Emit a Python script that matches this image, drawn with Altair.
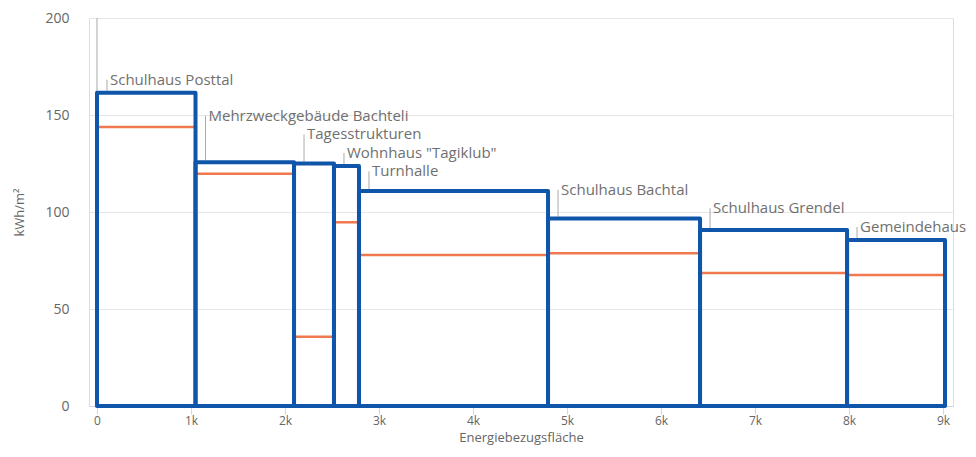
import altair as alt
import pandas as pd
import numpy as np

names = ["Schulhaus Posttal", "Mehrzweckgebäude Bachteli", "Tagesstrukturen",
         'Wohnhaus "Tagiklub"', "Turnhalle", "Schulhaus Bachtal",
         "Schulhaus Grendel", "Gemeindehaus"]
areas = [1048, 1048, 425, 266, 2011, 1617, 1564, 1042]
consumption = [161.5, 125.6, 125.0, 123.7, 110.8, 96.6, 90.7, 85.6]
target = [143.8, 119.7, 35.7, 94.7, 77.8, 78.7, 68.6, 67.5]
x_ticks = [0, 1000, 2000, 3000, 4000, 5000, 6000, 7000, 8000, 9000]
y_ticks = [0, 50, 100, 150, 200]

W, H = 864, 388
X_DOM = [-85, 9106]
Y_DOM = [0, 200]
px_x = (X_DOM[1] - X_DOM[0]) / W
px_y = (Y_DOM[1] - Y_DOM[0]) / H

starts = np.concatenate([[0], np.cumsum(areas)[:-1]])
ends = np.cumsum(areas)

# label stacking (avoid overlap), computed right to left
lab = [0.0] * len(names)
for i in range(len(names) - 1, -1, -1):
    base = consumption[i] + 13 * px_y
    if i < len(names) - 1:
        base = max(base, lab[i + 1] + 18.5 * px_y)
    lab[i] = base

df = pd.DataFrame({
    "name": names,
    "start": starts,
    "end": ends,
    "value": consumption,
    "target": target,
    "lab": lab,
    "lx": starts + 10 * px_x,
    "tx": starts + 13 * px_x,
    "ltop": np.array(consumption) + 2 * px_y,
    "zero": 0,
})

xs = alt.Scale(domain=X_DOM, nice=False, zero=False)
ys = alt.Scale(domain=Y_DOM, nice=False)

base = alt.Chart(df)

x_axis = alt.Axis(
    values=x_ticks, grid=False, labelExpr="datum.value == 0 ? '0' : datum.value/1000 + 'k'",
    domainColor="#ccd6eb", tickColor="#ccd6eb", tickSize=8, labelPadding=1,
    labelColor="#666666", labelFontSize=12, labelFont="Open Sans",
    title="Energiebezugsfläche", titleColor="#666666", titleFontSize=13,
    titleFont="Open Sans", titleFontWeight="normal", titlePadding=5,
)
y_axis = alt.Axis(
    values=y_ticks, grid=True, gridColor="#e6e6e6", domain=False, ticks=False,
    labelPadding=20, labelColor="#666666", labelFontSize=14, labelFont="Open Sans",
    title="kWh/m²", titleColor="#666666", titleFontSize=13, titleFont="Open Sans",
    titleFontWeight="normal", titlePadding=18,
)

first_line = alt.Chart(df.iloc[[0]]).mark_rule(color="#aaaaaa", strokeWidth=1).encode(
    x=alt.X("start:Q", scale=xs, axis=x_axis),
    y=alt.Y("value:Q", scale=ys, axis=y_axis),
    y2=alt.datum(Y_DOM[1]),
)

leaders = base.mark_rule(color="#aaaaaa", strokeWidth=1).encode(
    x=alt.X("lx:Q", scale=xs),
    y=alt.Y("ltop:Q", scale=ys),
    y2="lab:Q",
)

orange = base.mark_rule(color="#f0784f", strokeWidth=2.5).encode(
    x=alt.X("start:Q", scale=xs),
    x2="end:Q",
    y=alt.Y("target:Q", scale=ys),
)

bars = base.mark_rect(fill=None, fillOpacity=0, stroke="#0f56ab", strokeWidth=4,
                      strokeJoin="round").encode(
    x=alt.X("start:Q", scale=xs),
    x2="end:Q",
    y=alt.Y("zero:Q", scale=ys),
    y2="value:Q",
)

labels = base.mark_text(align="left", baseline="middle", font="Open Sans",
                        fontSize=15, color="#707070").encode(
    x=alt.X("tx:Q", scale=xs),
    y=alt.Y("lab:Q", scale=ys),
    text="name:N",
)

chart = alt.layer(first_line, leaders, orange, bars, labels).properties(
    width=W, height=H,
    autosize=alt.AutoSizeParams(type="none"),
    padding={"left": 81, "top": 10, "right": 15, "bottom": 40},
).configure_view(stroke=None).configure(background="white")

chart.save("out.html", embed_options={"renderer": "svg", "actions": False})
